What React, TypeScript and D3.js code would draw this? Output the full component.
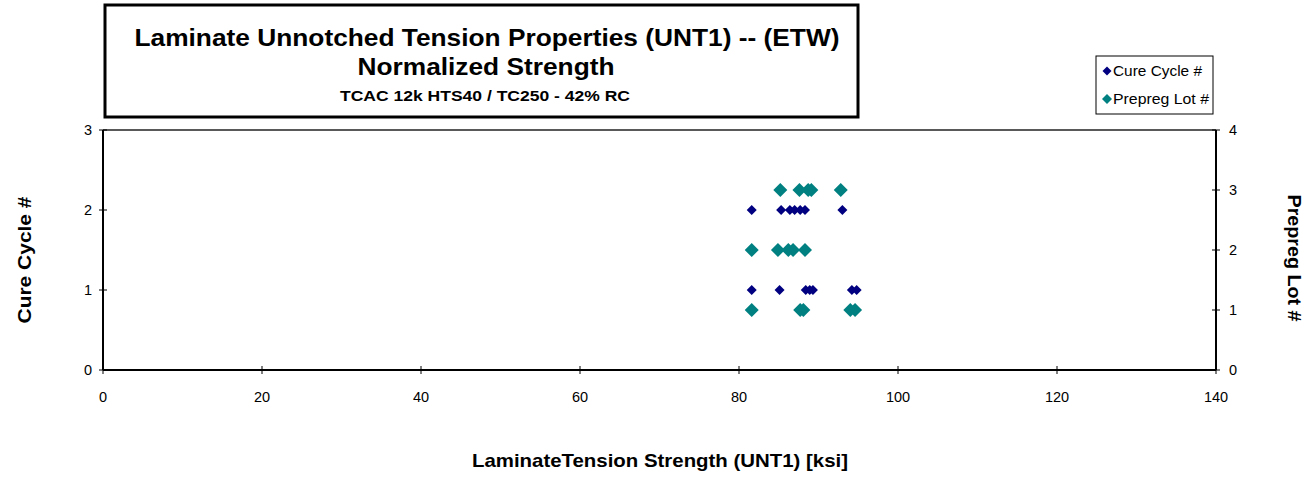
import React from "react";
import * as d3 from "d3";

const cureCycleStrength = [81.6, 85.3, 86.4, 87.0, 87.7, 88.3, 93.0, 81.6, 85.1, 88.4, 88.9, 89.3, 94.2, 94.8];
const cureCycleValue = [2, 2, 2, 2, 2, 2, 2, 1, 1, 1, 1, 1, 1, 1];
const prepregStrength = [85.2, 87.6, 88.7, 89.1, 92.8, 81.6, 84.9, 86.2, 86.8, 88.3, 81.6, 87.7, 88.1, 94.0, 94.6];
const prepregLot = [3, 3, 3, 3, 3, 2, 2, 2, 2, 2, 1, 1, 1, 1, 1];
const xTicks = [0, 20, 40, 60, 80, 100, 120, 140];
const leftTicks = [0, 1, 2, 3];
const rightTicks = [0, 1, 2, 3, 4];
const titleLines = [
  "Laminate Unnotched Tension Properties (UNT1) -- (ETW)",
  "Normalized Strength",
  "TCAC 12k HTS40 / TC250 - 42% RC",
];
const seriesNames = ["Cure Cycle #", "Prepreg Lot #"];
const xTitle = "LaminateTension Strength (UNT1) [ksi]";
const leftTitle = "Cure Cycle  #";
const rightTitle = "Prepreg Lot #";

const NAVY = "#000080";
const TEAL = "#008080";

const diamond = (cx: number, cy: number, r: number) =>
  `M${cx},${cy - r}L${cx + r},${cy}L${cx},${cy + r}L${cx - r},${cy}Z`;

export default function App() {
  const L = 103, R = 1216, T = 130, B = 370;
  const x = d3.scaleLinear().domain([0, 140]).range([L, R]);
  const yL = d3.scaleLinear().domain([0, 3]).range([B, T]);
  const yR = d3.scaleLinear().domain([0, 4]).range([B, T]);
  const font = "Arial, 'Liberation Sans', sans-serif";
  const titleFont = "'Liberation Sans Narrow', 'Arial Narrow', Arial, sans-serif";

  return (
    <svg
      width={1310}
      height={477}
      style={{ position: "absolute", left: 0, top: 0, background: "#fff" }}
      fontFamily={font}
    >
      {/* title box */}
      <rect x={105} y={5} width={753} height={112} fill="#fff" stroke="#000" strokeWidth={3} />
      <text x={487} y={46} textAnchor="middle" fontFamily={titleFont} fontWeight="bold" fontSize={24}
        textLength={705} lengthAdjust="spacingAndGlyphs">{titleLines[0]}</text>
      <text x={486} y={75} textAnchor="middle" fontFamily={titleFont} fontWeight="bold" fontSize={24}
        textLength={257} lengthAdjust="spacingAndGlyphs">{titleLines[1]}</text>
      <text x={485} y={101} textAnchor="middle" fontFamily={titleFont} fontWeight="bold" fontSize={15}
        textLength={290} lengthAdjust="spacingAndGlyphs">{titleLines[2]}</text>

      {/* legend */}
      <rect x={1096} y={56} width={117} height={58} fill="#fff" stroke="#000" strokeWidth={1} />
      <path d={diamond(1107, 71, 4.5)} fill={NAVY} />
      <text x={1113} y={76} fontSize={15} textLength={89} lengthAdjust="spacingAndGlyphs">{seriesNames[0]}</text>
      <path d={diamond(1107, 99, 5)} fill={TEAL} />
      <text x={1113} y={104} fontSize={15} textLength={96} lengthAdjust="spacingAndGlyphs">{seriesNames[1]}</text>

      {/* plot frame */}
      <line x1={L} x2={R} y1={T} y2={T} stroke="#222" strokeWidth={1.5} />
      <line x1={L} x2={L} y1={T} y2={B} stroke="#000" strokeWidth={2} />
      <line x1={R} x2={R} y1={T} y2={B} stroke="#000" strokeWidth={2} />
      <line x1={L} x2={R} y1={B} y2={B} stroke="#000" strokeWidth={2} />

      {/* x ticks */}
      {xTicks.map((t) => (
        <g key={"x" + t}>
          <line x1={x(t)} x2={x(t)} y1={B - 4} y2={B + 4} stroke="#000" strokeWidth={1} />
          <text x={x(t)} y={402} textAnchor="middle" fontSize={14.5}>{t}</text>
        </g>
      ))}
      {/* left ticks */}
      {leftTicks.map((t) => (
        <g key={"l" + t}>
          <line x1={L - 4} x2={L + 4} y1={yL(t)} y2={yL(t)} stroke="#000" strokeWidth={1} />
          <text x={92} y={yL(t) + 5} textAnchor="end" fontSize={14.5}>{t}</text>
        </g>
      ))}
      {/* right ticks */}
      {rightTicks.map((t) => (
        <g key={"r" + t}>
          <line x1={R - 4} x2={R + 4} y1={yR(t)} y2={yR(t)} stroke="#000" strokeWidth={1} />
          <text x={1229} y={yR(t) + 5} textAnchor="start" fontSize={14.5}>{t}</text>
        </g>
      ))}

      {/* data */}
      {prepregStrength.map((v, i) => (
        <path key={"p" + i} d={diamond(x(v), yR(prepregLot[i]), 7)} fill={TEAL} />
      ))}
      {cureCycleStrength.map((v, i) => (
        <path key={"c" + i} d={diamond(x(v), yL(cureCycleValue[i]), 5)} fill={NAVY} />
      ))}

      {/* axis titles */}
      <text x={660} y={467} textAnchor="middle" fontWeight="bold" fontSize={19}
        textLength={376} lengthAdjust="spacingAndGlyphs">{xTitle}</text>
      <text transform="translate(31,260) rotate(-90)" textAnchor="middle" fontWeight="bold" fontSize={19}
        textLength={127} lengthAdjust="spacingAndGlyphs">{leftTitle}</text>
      <text transform="translate(1288,258) rotate(90)" textAnchor="middle" fontWeight="bold" fontSize={19}
        textLength={127} lengthAdjust="spacingAndGlyphs">{rightTitle}</text>
    </svg>
  );
}
